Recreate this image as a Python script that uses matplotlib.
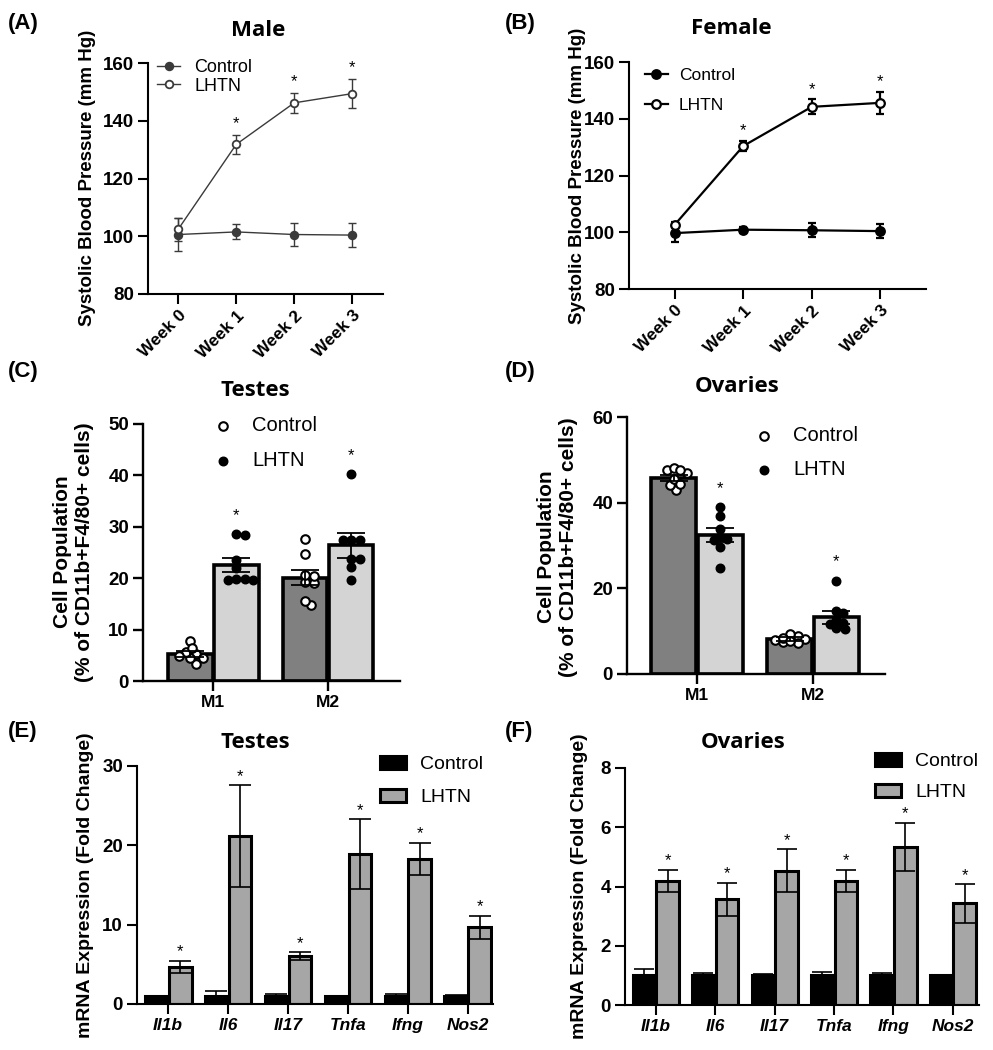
import numpy as np
import matplotlib
matplotlib.use("Agg")
import matplotlib.pyplot as plt

plt.rcParams['font.family'] = ['Liberation Sans', 'DejaVu Sans']

# ---------------- data ----------------
weeks = ["Week 0", "Week 1", "Week 2", "Week 3"]
male_ctrl_mean = [100.6, 101.5, 100.6, 100.4]
male_ctrl_sem = [5.8, 2.6, 3.9, 4.1]
male_lhtn_mean = [102.4, 131.8, 146.2, 149.4]
male_lhtn_sem = [4.0, 3.3, 3.4, 5.1]
male_sig = [False, True, True, True]

female_ctrl_mean = [99.7, 100.9, 100.7, 100.4]
female_ctrl_sem = [3.3, 1.0, 2.5, 2.5]
female_lhtn_mean = [102.7, 130.4, 144.2, 145.6]
female_lhtn_sem = [1.0, 1.9, 2.6, 3.9]
female_sig = [False, True, True, True]

macro_groups = ["M1", "M2"]
testes_ctrl_mean = [5.3, 20.1]
testes_ctrl_sem = [0.6, 1.5]
testes_lhtn_mean = [22.6, 26.4]
testes_lhtn_sem = [1.3, 2.4]
testes_ctrl_m1_pts = [7.7, 5.3, 3.4, 4.4, 4.4, 5.6, 6.4, 4.9]
testes_ctrl_m2_pts = [27.6, 24.8, 19.1, 20.5, 19.2, 14.7, 20.6, 15.5]
testes_lhtn_m1_pts = [28.4, 28.6, 23.5, 19.8, 19.7, 19.8, 19.7, 22.0]
testes_lhtn_m2_pts = [40.3, 27.4, 27.4, 23.8, 23.8, 22.2, 19.7, 27.5]

ovary_ctrl_mean = [45.8, 8.1]
ovary_ctrl_sem = [0.7, 0.5]
ovary_lhtn_mean = [32.4, 13.2]
ovary_lhtn_sem = [1.6, 1.5]
ovary_ctrl_m1_pts = [47.0, 47.6, 48.2, 47.6, 42.9, 44.1, 45.5, 44.3]
ovary_ctrl_m2_pts = [8.8, 8.1, 7.4, 9.3, 7.2, 8.0, 8.5, 7.6]
ovary_lhtn_m1_pts = [38.9, 36.9, 32.1, 33.8, 31.3, 29.7, 24.7, 31.5]
ovary_lhtn_m2_pts = [21.8, 14.2, 14.8, 10.7, 11.7, 10.4, 12.6, 12.0]

genes = ["Il1b", "Il6", "Il17", "Tnfa", "Ifng", "Nos2"]
testes_mrna_ctrl = [1.0, 1.0, 1.0, 1.0, 1.0, 1.0]
testes_mrna_ctrl_sem = [0.05, 0.6, 0.3, 0.05, 0.3, 0.15]
testes_mrna_lhtn = [4.7, 21.15, 6.04, 18.9, 18.3, 9.65]
testes_mrna_lhtn_sem = [0.75, 6.4, 0.5, 4.4, 2.0, 1.5]

ovary_mrna_ctrl = [1.0, 1.0, 1.0, 1.0, 1.0, 1.0]
ovary_mrna_ctrl_sem = [0.21, 0.07, 0.05, 0.12, 0.09, 0.02]
ovary_mrna_lhtn = [4.19, 3.57, 4.53, 4.19, 5.34, 3.43]
ovary_mrna_lhtn_sem = [0.37, 0.56, 0.73, 0.37, 0.82, 0.65]

# ---------------- figure ----------------
W, H = 993, 1050
fig = plt.figure(figsize=(W / 100, H / 100), dpi=100)


def fx(px):
    return px / W


def fy(py):
    return 1 - py / H


def add_ax(x0, y0, x1, y1):
    return fig.add_axes([fx(x0), fy(y1), fx(x1 - x0), (y1 - y0) / H])


YTICK_FS = 13.5
XTICK_FS = 12.5
TITLE_FONT = ['Open Sans', 'DejaVu Sans']


def style_ax(ax, lw=1.5):
    for s in ['top', 'right']:
        ax.spines[s].set_visible(False)
    for s in ['left', 'bottom']:
        ax.spines[s].set_linewidth(lw)
    ax.tick_params(direction='out', length=7, width=lw, pad=3)
    ax.tick_params(axis='y', labelsize=YTICK_FS)
    ax.tick_params(axis='x', labelsize=XTICK_FS)


def bold_ticks(ax, italic_x=False):
    for t in ax.get_yticklabels():
        t.set_fontweight('bold')
    for t in ax.get_xticklabels():
        t.set_fontweight('bold')
        if italic_x:
            t.set_fontstyle('italic')


def panel_letter(txt, x, y):
    fig.text(fx(x), fy(y), txt, fontsize=16, fontweight='bold', ha='left', va='center')


def title(txt, x, y):
    fig.text(fx(x), fy(y), txt, fontsize=16, fontweight='bold', ha='center', va='center',
             family=TITLE_FONT)


def ylab(txt, x, y, fs):
    fig.text(fx(x), fy(y), txt, fontsize=fs, fontweight='bold', ha='center', va='center',
             rotation=90, linespacing=1.2, multialignment='center')


def star(ax, x, y, off):
    ax.annotate('*', xy=(x, y), xytext=(0, off), textcoords='offset points',
                ha='center', va='bottom', fontsize=12, fontweight='normal')


def legend_at(ax, handles, labels, left, top, fs, **kw):
    ax.legend(handles, labels, loc='upper left', bbox_to_anchor=(fx(left), fy(top)),
              bbox_transform=fig.transFigure, frameon=False, borderpad=0,
              borderaxespad=0, fontsize=fs, **kw)


# ---------------- A / B line charts ----------------
def line_panel(box, ymeans_c, ysem_c, ymeans_l, ysem_l, sig, color, lw, ms, mew, cap,
               star_off):
    ax = add_ax(*box)
    x = np.arange(len(weeks))
    hc, = ax.plot(x, ymeans_c, '-o', color=color, lw=lw, ms=ms, mfc=color, mec=color,
                  mew=mew, zorder=3)
    ax.errorbar(x, ymeans_c, yerr=ysem_c, fmt='none', ecolor=color, elinewidth=lw,
                capsize=cap, capthick=lw, zorder=2)
    hl, = ax.plot(x, ymeans_l, '-o', color=color, lw=lw, ms=ms, mfc='white', mec=color,
                  mew=mew, zorder=5)
    ax.errorbar(x, ymeans_l, yerr=ysem_l, fmt='none', ecolor=color, elinewidth=lw,
                capsize=cap, capthick=lw, zorder=4)
    for i, s in enumerate(sig):
        if s:
            star(ax, x[i], ymeans_l[i] + ysem_l[i], star_off)
    ax.set_ylim(80, 160)
    ax.set_yticks([80, 100, 120, 140, 160])
    ax.set_xticks(x)
    ax.set_xticklabels(weeks, rotation=45, ha='right', va='top', rotation_mode='anchor')
    style_ax(ax)
    bold_ticks(ax)
    return ax, hc, hl


# A
axA, hc, hl = line_panel((148, 63, 383, 294), male_ctrl_mean, male_ctrl_sem,
                         male_lhtn_mean, male_lhtn_sem, male_sig, '#3a3a3a', 1.0, 5.5, 1.3,
                         2.6, 3)
axA.set_xlim(-0.52, 3.53)
legend_at(axA, [hc, hl], ['Control', 'LHTN'], 157, 59, 13, handlelength=1.3,
          handletextpad=0.75, labelspacing=0.1)
panel_letter('(A)', 8, 24)
title('Male', 258, 30)
ylab('Systolic Blood Pressure (mm Hg)', 88, 178, 13.5)

# B
axB, hc, hl = line_panel((629, 62, 926, 289), female_ctrl_mean, female_ctrl_sem,
                         female_lhtn_mean, female_lhtn_sem, female_sig, 'black', 1.6, 6.2,
                         1.6, 3, 2)
axB.set_xlim(-0.67, 3.67)
legend_at(axB, [hc, hl], ['Control', 'LHTN'], 645, 68, 12.5, handlelength=1.3,
          handletextpad=0.65, labelspacing=0.85)
panel_letter('(B)', 505, 24)
title('Female', 731, 29)
ylab('Systolic Blood Pressure (mm Hg)', 578, 176, 13.5)


# ---------------- C / D scatter-bar ----------------
def swarm(vals, center, box, xlim, ylim, diam_px, max_px):
    x0, y0, x1, y1 = box
    sx = (x1 - x0) / (xlim[1] - xlim[0])
    sy = (y1 - y0) / (ylim[1] - ylim[0])
    order = np.argsort(vals)[::-1]
    placed = []
    xs = np.zeros(len(vals))
    step = diam_px * 0.25
    cands = [0.0]
    for k in range(1, 40):
        cands += [k * step, -k * step]
    cands = [c for c in cands if abs(c) <= max_px]
    for i in order:
        ypx = vals[i] * sy
        best = None
        for c in cands:
            ok = all((c - px) ** 2 + (ypx - py) ** 2 >= (diam_px * 0.8) ** 2
                     for px, py in placed)
            if ok:
                best = c
                break
        if best is None:
            best = cands[len(placed) % len(cands)]
        placed.append((best, ypx))
        xs[i] = center + best / sx
    return xs


def scatter_bar_panel(box, xlim, ylim, yticks, ctrl_mean, ctrl_sem, lhtn_mean, lhtn_sem,
                      ctrl_pts, lhtn_pts, star_off):
    ax = add_ax(*box)
    x = np.arange(len(macro_groups))
    off, w = 0.2, 0.39
    ax.bar(x - off, ctrl_mean, w, color='#808080', edgecolor='black', linewidth=2.6,
           zorder=1)
    ax.bar(x + off, lhtn_mean, w, color='#d4d4d4', edgecolor='black', linewidth=2.6,
           zorder=1)
    hs = []
    for gi in range(len(macro_groups)):
        xs = swarm(np.array(ctrl_pts[gi]), x[gi] - off, box, xlim, ylim, 8.5, 19)
        h1 = ax.scatter(xs, ctrl_pts[gi], s=38, facecolor='white', edgecolor='black',
                        linewidth=1.5, zorder=3)
        xs = swarm(np.array(lhtn_pts[gi]), x[gi] + off, box, xlim, ylim, 8.5, 19)
        h2 = ax.scatter(xs, lhtn_pts[gi], s=38, facecolor='black', edgecolor='black',
                        linewidth=1.0, zorder=3)
        hs = [h1, h2]
    ax.errorbar(x - off, ctrl_mean, yerr=ctrl_sem, fmt='none', ecolor='black',
                elinewidth=1.3, capsize=10, capthick=1.3, zorder=4)
    ax.errorbar(x + off, lhtn_mean, yerr=lhtn_sem, fmt='none', ecolor='black',
                elinewidth=1.3, capsize=10, capthick=1.3, zorder=4)
    for gi in range(len(macro_groups)):
        top = max(lhtn_mean[gi] + lhtn_sem[gi], max(lhtn_pts[gi]))
        star(ax, x[gi] + off, top, star_off)
    ax.set_xlim(*xlim)
    ax.set_ylim(*ylim)
    ax.set_yticks(yticks)
    ax.set_xticks(x)
    ax.set_xticklabels(macro_groups)
    style_ax(ax, lw=1.7)
    bold_ticks(ax)
    return ax, hs


# C
boxC = (143, 424, 400, 681)
axC, hs = scatter_bar_panel(boxC, (-0.61, 1.626), (0, 50), [0, 10, 20, 30, 40, 50],
                            testes_ctrl_mean, testes_ctrl_sem, testes_lhtn_mean,
                            testes_lhtn_sem, [testes_ctrl_m1_pts, testes_ctrl_m2_pts],
                            [testes_lhtn_m1_pts, testes_lhtn_m2_pts], 8)
legend_at(axC, hs, ['Control', 'LHTN'], 213, 416, 14.5, handlelength=1.0,
          handletextpad=0.95, labelspacing=0.8, scatterpoints=1)
panel_letter('(C)', 8, 372)
title('Testes', 255, 390)
ylab('Cell Population\n(% of CD11b+F4/80+ cells)', 73, 552, 15)

# D
boxD = (627, 417, 885, 674)
axD, hs = scatter_bar_panel(boxD, (-0.603, 1.62), (0, 60), [0, 20, 40, 60],
                            ovary_ctrl_mean, ovary_ctrl_sem, ovary_lhtn_mean,
                            ovary_lhtn_sem, [ovary_ctrl_m1_pts, ovary_ctrl_m2_pts],
                            [ovary_lhtn_m1_pts, ovary_lhtn_m2_pts], 8)
legend_at(axD, hs, ['Control', 'LHTN'], 754, 426, 14.5, handlelength=1.0,
          handletextpad=0.95, labelspacing=0.75, scatterpoints=1)
panel_letter('(D)', 505, 372)
title('Ovaries', 737, 387)
ylab('Cell Population\n(% of CD11b+F4/80+ cells)', 558, 547, 15)


# ---------------- E / F grouped bars ----------------
def mrna_panel(box, xlim, ylim, yticks, ctrl, ctrl_sem, lhtn, lhtn_sem, cap):
    ax = add_ax(*box)
    x = np.arange(len(genes))
    off, w = 0.2, 0.38
    b1 = ax.bar(x - off, ctrl, w, color='black', edgecolor='black', linewidth=2.2,
                zorder=1)
    b2 = ax.bar(x + off, lhtn, w, color='#a6a6a6', edgecolor='black', linewidth=2.2,
                zorder=1)
    ax.errorbar(x - off, ctrl, yerr=ctrl_sem, fmt='none', ecolor='black',
                elinewidth=1.2, capsize=cap, capthick=1.2, zorder=0.5)
    ax.errorbar(x + off, lhtn, yerr=lhtn_sem, fmt='none', ecolor='black',
                elinewidth=1.2, capsize=cap, capthick=1.2, zorder=2)
    for i in range(len(genes)):
        star(ax, x[i] + off, lhtn[i] + lhtn_sem[i], 1)
    ax.set_xlim(*xlim)
    ax.set_ylim(*ylim)
    ax.set_yticks(yticks)
    ax.set_xticks(x)
    ax.set_xticklabels(genes)
    style_ax(ax, lw=1.5)
    bold_ticks(ax, italic_x=True)
    return ax, b1, b2


# E
axE, b1, b2 = mrna_panel((137, 766, 493, 1004), (-0.52, 5.42), (0, 30), [0, 10, 20, 30],
                         testes_mrna_ctrl, testes_mrna_ctrl_sem, testes_mrna_lhtn,
                         testes_mrna_lhtn_sem, 8)
legend_at(axE, [b1, b2], ['Control', 'LHTN'], 380, 756, 14, handlelength=1.34,
          handleheight=0.67, handletextpad=0.72, labelspacing=0.8)
panel_letter('(E)', 8, 732)
title('Testes', 255, 743)
ylab('mRNA Expression (Fold Change)', 86, 885, 14)

# F
axF, b1, b2 = mrna_panel((625, 768, 979, 1005), (-0.52, 5.44), (0, 8), [0, 2, 4, 6, 8],
                         ovary_mrna_ctrl, ovary_mrna_ctrl_sem, ovary_mrna_lhtn,
                         ovary_mrna_lhtn_sem, 7.5)
legend_at(axF, [b1, b2], ['Control', 'LHTN'], 875, 753, 14, handlelength=1.34,
          handleheight=0.67, handletextpad=0.72, labelspacing=0.7)
panel_letter('(F)', 505, 732)
title('Ovaries', 743, 743)
ylab('mRNA Expression (Fold Change)', 580, 886, 14)

fig.savefig('out.png', dpi=100)
